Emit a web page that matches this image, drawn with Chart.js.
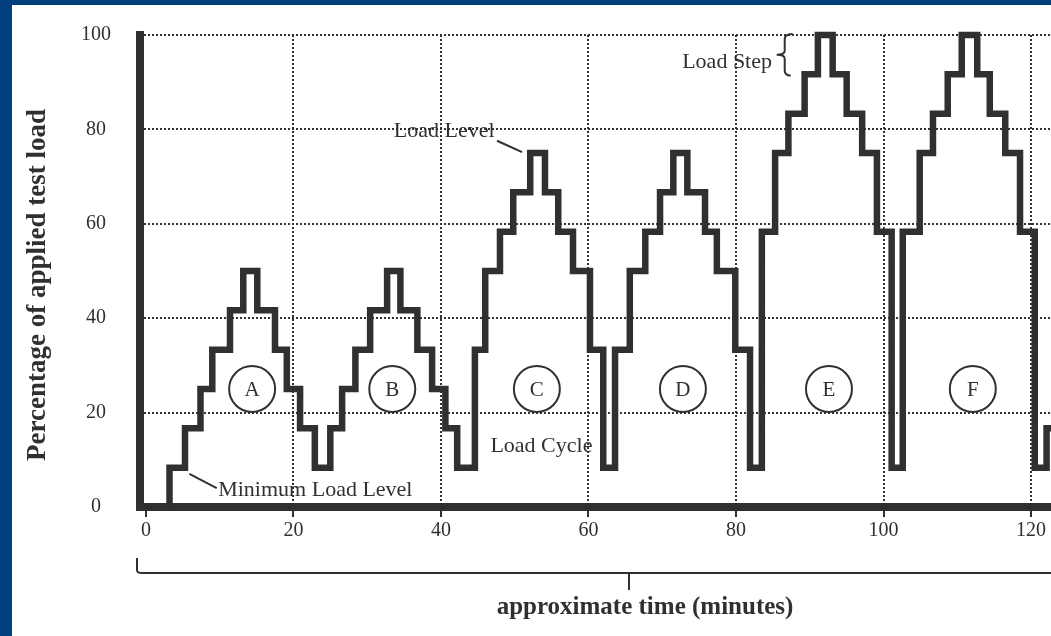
<!DOCTYPE html>
<html>
<head>
<meta charset="utf-8">
<script src="https://cdn.jsdelivr.net/npm/chart.js@4"></script>
<style>
  html,body{margin:0;padding:0;background:#023f7c;overflow:hidden;width:1051px;height:636px;}
  #wrap{position:absolute;left:12px;top:5px;width:1039px;height:631px;background:#fff;}
  canvas{display:block;}
</style>
</head>
<body>
<div id="wrap"><canvas id="chart" width="1039" height="631"></canvas></div>
<script>
// =====================
// Load test cycles
// =====================
// minute at which the load changes, and the new load (%)
const changeTimes = [0, 3.2, 5.3, 7.4, 9.0, 11.4, 13.2, 15.1, 17.5, 19.1, 20.9, 22.9,
  25.0, 26.6, 28.4, 30.4, 32.7, 34.5, 36.8, 38.8, 40.6, 42.2,
  44.6, 46.0, 48.0, 49.8, 52.1, 54.1, 55.9, 57.9, 60.2, 62.0,
  63.6, 65.6, 67.7, 69.7, 71.5, 73.4, 75.8, 77.4, 79.9, 81.9,
  83.5, 85.3, 87.1, 89.3, 91.1, 93.1, 95.0, 97.1, 99.1, 101.1,
  102.6, 104.9, 106.7, 108.7, 110.6, 112.7, 114.4, 116.5, 118.5, 120.5,
  122.1, 123];
const loadLevels = [0, 8.3, 16.7, 25, 33.3, 41.7, 50, 41.7, 33.3, 25, 16.7, 8.3,
  16.7, 25, 33.3, 41.7, 50, 41.7, 33.3, 25, 16.7, 8.3,
  33.3, 50, 58.3, 66.7, 75, 66.7, 58.3, 50, 33.3, 8.3,
  33.3, 50, 58.3, 66.7, 75, 66.7, 58.3, 50, 33.3, 8.3,
  58.3, 75, 83.3, 91.7, 100, 91.7, 83.3, 75, 58.3, 8.3,
  58.3, 75, 83.3, 91.7, 100, 91.7, 83.3, 75, 58.3, 8.3,
  16.7, 16.7];

const xTicks = [0, 20, 40, 60, 80, 100, 120];
const yTicks = [0, 20, 40, 60, 80, 100];

const cycleNames   = ['A', 'B', 'C', 'D', 'E', 'F'];
const cycleCentres = [14.4, 33.4, 53.0, 72.8, 92.6, 112.1];
const cycleLoad    = 25;

const yTitle = 'Percentage of applied test load';
const xTitle = 'approximate time (minutes)';

// notes: text, minute, load where the text starts
const noteTexts = ['Minimum Load Level', 'Load Level', 'Load Cycle', 'Load Step'];
const noteTimes = [9.8, 33.6, 46.7, 72.7];
const noteLoads = [3.6, 79.6, 12.9, 94.3];

const INK = '#303030';
const SERIF = '"Liberation Serif", "Times New Roman", serif';

Chart.defaults.font.family = SERIF;
Chart.defaults.color = INK;

function $(id){ return document.getElementById(id); }

// extra drawing: circles, notes, brace, bottom bracket, axis titles
const notesPlugin = {
  id: 'notes',
  afterDraw(chart){
    const {ctx, chartArea: ca, scales: {x, y}} = chart;
    const px = v => x.getPixelForValue(v);
    const py = v => y.getPixelForValue(v);
    ctx.save();
    ctx.strokeStyle = INK;
    ctx.fillStyle = INK;

    // cycle circles
    ctx.lineWidth = 2;
    ctx.font = '21px ' + SERIF;
    ctx.textAlign = 'center';
    ctx.textBaseline = 'middle';
    cycleNames.forEach((n, i) => {
      const cx = px(cycleCentres[i]), cy = py(cycleLoad);
      ctx.beginPath();
      ctx.arc(cx, cy, 23, 0, Math.PI * 2);
      ctx.stroke();
      ctx.fillText(n, cx, cy + 1);
    });

    // notes
    ctx.font = '22px ' + SERIF;
    ctx.textAlign = 'left';
    noteTexts.forEach((t, i) => ctx.fillText(t, px(noteTimes[i]), py(noteLoads[i])));

    // leaders
    ctx.lineWidth = 2;
    ctx.beginPath();
    ctx.moveTo(px(5.9), py(7.0)); ctx.lineTo(px(9.6), py(4.0));
    ctx.moveTo(px(47.6), py(77.6)); ctx.lineTo(px(51.0), py(75.2));
    ctx.stroke();

    // load step brace
    const bx = px(86.6), bt = py(100.2), bb = py(91.4), bm = (bt + bb) / 2;
    ctx.beginPath();
    ctx.moveTo(bx + 8, bt);
    ctx.quadraticCurveTo(bx, bt, bx, bt + 5);
    ctx.lineTo(bx, bm - 4);
    ctx.quadraticCurveTo(bx, bm, bx - 8, bm);
    ctx.quadraticCurveTo(bx, bm, bx, bm + 4);
    ctx.lineTo(bx, bb - 5);
    ctx.quadraticCurveTo(bx, bb, bx + 6, bb);
    ctx.stroke();

    // bottom bracket
    const by = ca.bottom + 66;
    ctx.beginPath();
    ctx.moveTo(ca.left - 3, by - 15);
    ctx.lineTo(ca.left - 3, by - 3);
    ctx.quadraticCurveTo(ca.left - 3, by, ca.left + 2, by);
    ctx.lineTo(ca.right, by);
    ctx.moveTo(617, by);
    ctx.lineTo(617, by + 17);
    ctx.stroke();

    // axis titles
    ctx.font = 'bold 25px ' + SERIF;
    ctx.textAlign = 'center';
    ctx.fillText(xTitle, 633, 603);
    ctx.translate(26, 280);
    ctx.rotate(-Math.PI / 2);
    ctx.font = 'bold 27px ' + SERIF;
    ctx.fillText(yTitle, 0, 0);
    ctx.restore();
  }
};

const points = changeTimes.map((t, i) => ({x: t, y: loadLevels[i]}));

new Chart($('chart'), {
  type: 'line',
  data: {
    datasets: [{
      data: points,
      stepped: 'before',
      borderColor: INK,
      borderWidth: 6.5,
      borderJoinStyle: 'miter',
      pointRadius: 0,
      fill: false,
      clip: {left: 10, top: 10, right: 0, bottom: 10}
    }]
  },
  options: {
    responsive: false,
    animation: false,
    layout: {padding: {top: 30, left: 0, right: 0, bottom: 0}},
    plugins: {legend: {display: false}, tooltip: {enabled: false}},
    scales: {
      x: {
        type: 'linear',
        min: -0.8,
        max: 122.7,
        afterBuildTicks(s){ s.ticks = xTicks.map(v => ({value: v})); },
        afterFit(s){ s.height = 129; },
        grid: {
          color: c => c.tick && c.tick.value === 0 ? 'rgba(0,0,0,0)' : '#333',
          lineWidth: 2,
          tickLength: 10,
          tickColor: INK,
          tickWidth: 2
        },
        border: {display: true, width: 8, color: INK, dash: [2, 2]},
        ticks: {font: {size: 20}, color: INK, padding: 2, maxRotation: 0}
      },
      y: {
        min: 0,
        max: 100,
        afterBuildTicks(s){ s.ticks = yTicks.map(v => ({value: v})); },
        afterFit(s){ s.width = 128; },
        grid: {
          color: c => c.tick && c.tick.value === 0 ? 'rgba(0,0,0,0)' : '#333',
          lineWidth: 2,
          drawTicks: true,
          tickLength: 27,
          tickColor: 'rgba(0,0,0,0)'
        },
        border: {display: true, width: 8, color: INK, dash: [2, 2]},
        ticks: {font: {size: 20}, color: INK, padding: 2, crossAlign: 'center'}
      }
    }
  },
  plugins: [notesPlugin]
});
</script>
</body>
</html>
